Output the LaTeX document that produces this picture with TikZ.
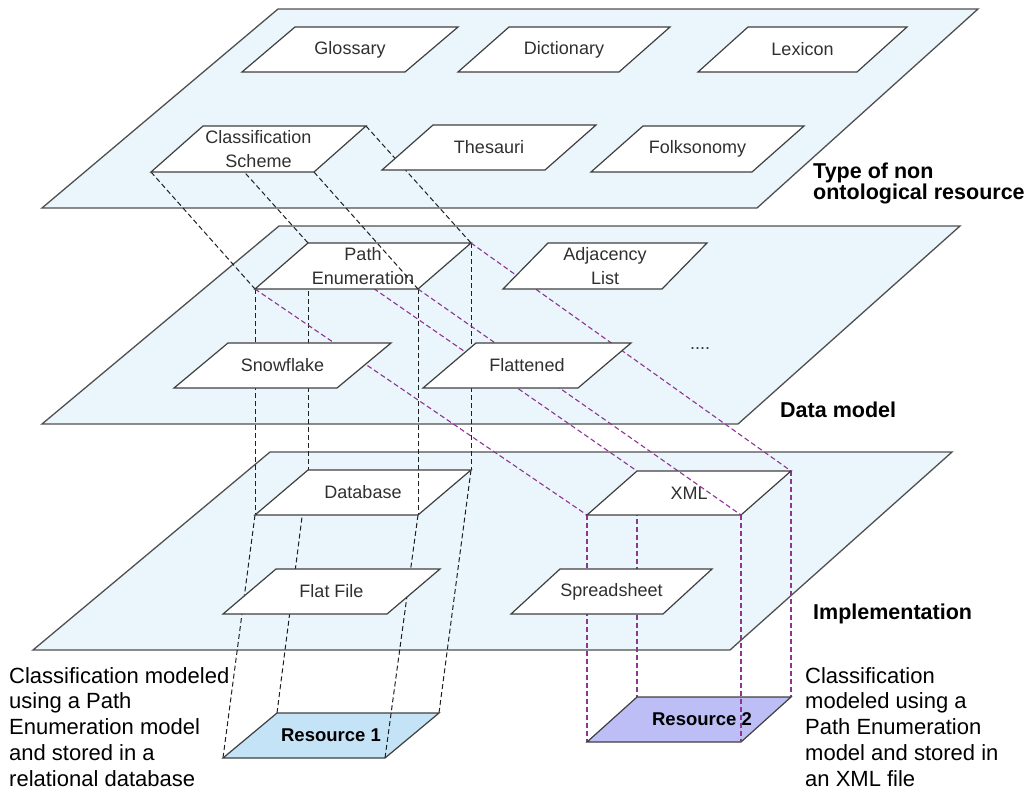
\documentclass[tikz,border=0pt]{standalone}
\usepackage{fontspec}
\setmainfont{Liberation Sans}
\usetikzlibrary{calc}

\definecolor{planefill}{HTML}{EAF5FC}
\definecolor{planeedge}{HTML}{505050}
\definecolor{boxedge}{HTML}{404040}
\definecolor{labelgray}{HTML}{303030}
\definecolor{linkblack}{HTML}{202020}
\definecolor{linkpurple}{HTML}{8E3590}
\definecolor{resblue}{HTML}{C5E3F7}
\definecolor{respurple}{HTML}{BCBEF5}

% corners of a slanted box: name, bottom-left x, bottom-left y, width, slant, height
\newcommand\pgcorners[6]{%
  \coordinate (#1-bl) at (#2,#3);
  \coordinate (#1-br) at (#2+#4,#3);
  \coordinate (#1-tr) at (#2+#4+#5,#3-#6);
  \coordinate (#1-tl) at (#2+#5,#3-#6);
}
% slanted box with its label: name, box style, label style, text
\newcommand\pgdraw[4]{%
  \draw[#2] (#1-bl) -- (#1-br) -- (#1-tr) -- (#1-tl) -- cycle;
  \node[boxlabel,#3] (#1) at ($(#1-bl)!0.5!(#1-tr)$) {#4};
}
\newcommand\pgclip[1]{\clip (#1-bl) -- (#1-br) -- (#1-tr) -- (#1-tl) -- cycle;}

\begin{document}
\begin{tikzpicture}[x=1pt,y=-1pt,
  plane/.style={draw=planeedge,fill=planefill,line width=1.3pt,line join=miter},
  pbox/.style={draw=boxedge,fill=white,line width=1.2pt,line join=miter},
  res1box/.style={pbox,fill=resblue},
  res2box/.style={pbox,fill=respurple},
  boxlabel/.style={font=\fontsize{18}{23.5}\selectfont,text=labelgray,inner sep=0pt,align=center},
  reslabel/.style={font=\fontsize{18.5}{22}\selectfont\bfseries,text=black},
  layerlabel/.style={font=\fontsize{21.5}{20}\selectfont\bfseries,text=black,inner sep=0pt,align=left,anchor=north west},
  notelabel/.style={font=\fontsize{22}{25.8}\selectfont,text=black,inner sep=0pt,align=left,anchor=north west},
  blackdash/.style={draw=linkblack,line width=1pt,dash pattern=on 5pt off 3pt},
  purpledash/.style={draw=linkpurple,line width=1.1pt,dash pattern=on 5pt off 3pt}]

\useasboundingbox (0,0) rectangle (1036,796);

% the three layers
\draw[plane] (278,9) -- (978,9) -- (757,208) -- (42,208) -- cycle;
\draw[plane] (279,226) -- (960,226) -- (738,424) -- (42,424) -- cycle;
\draw[plane] (270,452) -- (952,452) -- (730,650) -- (33,650) -- cycle;

% box corners
\pgcorners{glossary}{242}{72}{163}{53}{45}
\pgcorners{dictionary}{458}{72}{161}{51}{45}
\pgcorners{lexicon}{698}{72}{159}{50}{45}
\pgcorners{classif}{151}{172}{163}{52}{46}
\pgcorners{thesauri}{382}{170}{163}{51}{45}
\pgcorners{folksonomy}{591}{172}{161}{52}{46}
\pgcorners{pathenum}{255}{289}{163}{53}{46}
\pgcorners{adjacency}{503}{289}{159}{45}{46}
\pgcorners{snowflake}{174}{388}{163}{54}{45}
\pgcorners{flattened}{423}{388}{155}{53}{45}
\pgcorners{database}{255}{515}{163}{53}{45}
\pgcorners{flatfile}{223}{614}{164}{53}{45}
\pgcorners{xml}{587}{515}{154}{50}{44}
\pgcorners{spreadsheet}{511}{614}{152}{49}{45}
\pgcorners{res1}{223}{758}{162}{54}{45}
\pgcorners{res2}{587}{742}{154}{50}{45}

% projection lines: classification scheme -> path enumeration -> database -> resource 1
\foreach \c in {tl,tr,bl,br}{
  \draw[blackdash] (classif-\c) -- (pathenum-\c);
  \draw[blackdash] (pathenum-\c) -- (database-\c);
  \draw[blackdash] (database-\c) -- (res1-\c);
}
% projection lines: path enumeration -> XML -> resource 2
\foreach \c in {tl,tr,bl,br}{
  \draw[purpledash] (pathenum-\c) -- (xml-\c);
  \draw[purpledash] (xml-\c) -- (res2-\c);
}

% boxes
\pgdraw{glossary}{pbox}{}{Glossary}
\pgdraw{dictionary}{pbox}{}{Dictionary}
\pgdraw{lexicon}{pbox}{}{Lexicon}
\pgdraw{classif}{pbox}{}{Classification\\Scheme}
\pgdraw{thesauri}{pbox}{}{Thesauri}
\pgdraw{folksonomy}{pbox}{}{Folksonomy}
\pgdraw{pathenum}{pbox}{}{Path\\Enumeration}
\pgdraw{adjacency}{pbox}{}{Adjacency\\List}
\pgdraw{snowflake}{pbox}{}{Snowflake}
\pgdraw{flattened}{pbox}{}{Flattened}
\pgdraw{database}{pbox}{}{Database}
\pgdraw{flatfile}{pbox}{}{Flat File}
\pgdraw{xml}{pbox}{}{XML}
\pgdraw{spreadsheet}{pbox}{}{Spreadsheet}
\pgdraw{res1}{res1box}{reslabel}{Resource 1}
\pgdraw{res2}{res2box}{reslabel,xshift=13pt}{Resource 2}

% near edges of each projection run in front of the lower box
\begin{scope}\pgclip{pathenum}\draw[blackdash] (classif-br) -- (pathenum-br);\end{scope}
\begin{scope}\pgclip{database}\draw[blackdash] (pathenum-br) -- (database-br);\end{scope}
\begin{scope}\pgclip{res1}\draw[blackdash] (database-br) -- (res1-br);\end{scope}
\begin{scope}\pgclip{xml}\draw[purpledash] (pathenum-br) -- (xml-br);\end{scope}
\begin{scope}\pgclip{res2}\draw[purpledash] (xml-br) -- (res2-br);\end{scope}

\node[boxlabel,anchor=base] (more) at (700,349) {....};

% layer names
\node[layerlabel] (typelabel) at (813,163) {Type of non\\ontological resource};
\node[layerlabel] (modellabel) at (780,402) {Data model};
\node[layerlabel] (impllabel) at (813,604) {Implementation};

% notes on the two resources
\node[notelabel] (note1) at (9,667) {Classification modeled\\using a Path\\Enumeration model\\and stored in a\\relational database};
\node[notelabel] (note2) at (805,667) {Classification\\modeled using a\\Path Enumeration\\model and stored in\\an XML file};
\end{tikzpicture}
\end{document}
